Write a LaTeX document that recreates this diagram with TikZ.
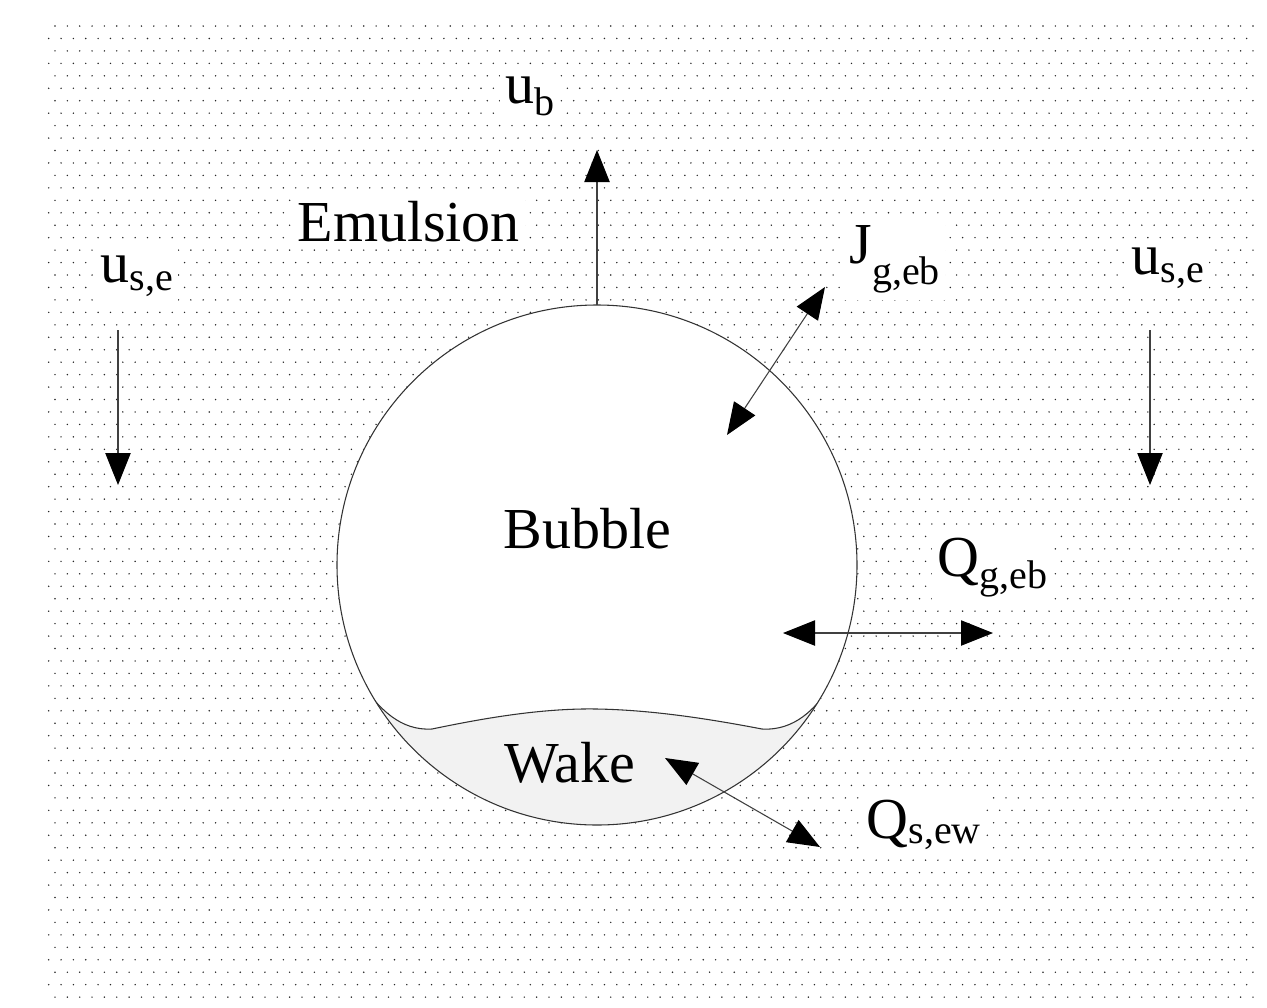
\documentclass[tikz,border=0pt]{standalone}
\usepackage{fontspec}
\setmainfont{Liberation Serif}
\usetikzlibrary{arrows.meta}
\newcommand{\mainsz}{\fontsize{43.5}{48}\selectfont}
\newcommand{\lblsub}[3]{#1\raisebox{-#3pt}{\fontsize{30}{34}\selectfont #2}}
\tikzset{
  dotc/.style={fill=black!85},
  lbl/.style={anchor=base west, fill=white, inner xsep=4pt, inner ysep=5pt, font=\mainsz},
  oneway/.style={draw=black!75, line width=0.8pt, -{Triangle[length=24pt,width=19pt,color=black]}},
  twoway/.style={draw=black!75, line width=0.8pt, {Triangle[length=24pt,width=19pt,color=black]}-{Triangle[length=24pt,width=19pt,color=black]}},
  outline/.style={draw=black!80, line width=0.8pt}
}
\begin{document}
\begin{tikzpicture}[x=0.75pt,y=-0.75pt]
\useasboundingbox (0,0) rectangle (1267,1007);
\fill[white] (0,0) rectangle (1267,1007);
% dotted emulsion background
\foreach \r in {0,...,78} {
  \pgfmathsetmacro\yy{26+12.45*\r}
  \pgfmathsetmacro\xo{mod(\r,2)==0 ? 55 : 48.7}
  \fill[dotc] foreach \c in {0,...,97} {(\xo+12.35*\c,\yy) circle[radius=0.8]};
}
% bubble
\node (bubble) [circle, fill=white, minimum size=390pt, inner sep=0pt] at (597,565) {};
\begin{scope}
  \clip (597,565) circle[radius=260];
  \fill[black!5] (300,690) -- (366,690) .. controls (380,708) and (400,731) .. (432,729)
     .. controls (480,719) and (540,708) .. (597,709)
     .. controls (655,710) and (715,720) .. (762,729)
     .. controls (795,731) and (815,708) .. (828,690) -- (900,690) -- (900,900) -- (300,900) -- cycle;
  \draw[outline] (366,690) .. controls (380,708) and (400,731) .. (432,729)
     .. controls (480,719) and (540,708) .. (597,709)
     .. controls (655,710) and (715,720) .. (762,729)
     .. controls (795,731) and (815,708) .. (828,690);
\end{scope}
\draw[outline] (597,565) circle[radius=260];
% labels
\node[lbl] (ub) at (500,103) {\lblsub{u}{b}{9}};
\node[lbl] (usel) at (95,282) {\lblsub{u}{s,e}{6}};
\node[lbl] (user) at (1126,274) {\lblsub{u}{s,e}{6}};
\node[lbl] (emul) at (292,241) {Emulsion};
\node[lbl] (jgeb) at (844,263) {\lblsub{J}{g,eb}{16}};
\node[lbl] (bub) at (498,548) {Bubble};
\node[lbl] (qgeb) at (932,576) {\lblsub{Q}{g,eb}{9}};
\node[lbl, fill=none] (wake) at (499,782) {Wake};
\node[lbl] (qsew) at (861,838) {\lblsub{Q}{s,ew}{4}};
% arrow end points
\coordinate (ubA) at (597,305);  \coordinate (ubB) at (597,150);
\coordinate (ulA) at (118,330);  \coordinate (ulB) at (118,485);
\coordinate (urA) at (1150,330); \coordinate (urB) at (1150,485);
\coordinate (jA) at (727,435);   \coordinate (jB) at (825,287);
\coordinate (qA) at (783,633);   \coordinate (qB) at (993,633);
\coordinate (wA) at (665,758);   \coordinate (wB) at (820,847);
\draw[oneway] (ubA) -- (ubB);
\draw[oneway] (ulA) -- (ulB);
\draw[oneway] (urA) -- (urB);
\draw[twoway] (jA) -- (jB);
\draw[twoway] (qA) -- (qB);
\draw[twoway] (wA) -- (wB);
\end{tikzpicture}
\end{document}
